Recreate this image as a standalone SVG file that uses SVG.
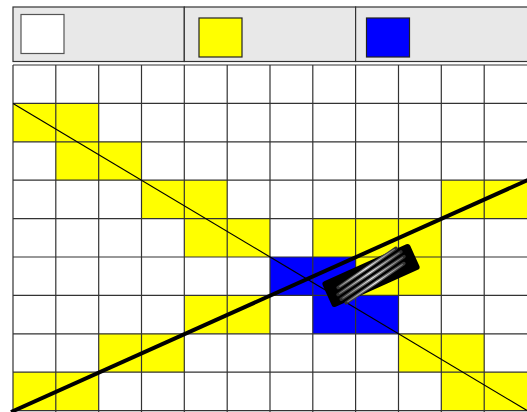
<svg xmlns="http://www.w3.org/2000/svg" width="527" height="412" viewBox="0 0 527 412">
<style>
.leg{fill:#e8e8e8;stroke:#333;stroke-width:1.2}
.sw{stroke:#222;stroke-width:1.2}
.y{fill:#ffff00}
.b{fill:#0000ff}
.gl{stroke:#333;stroke-width:1.2;fill:none}
.st1{stroke:url(#sg1);stroke-width:3.4;stroke-linecap:round}
.st2{stroke:url(#sg2);stroke-width:1.1;stroke-linecap:round}
</style>
<defs>
<linearGradient id="sg1" gradientUnits="userSpaceOnUse" x1="-45" y1="0" x2="45" y2="0">
<stop offset="0" stop-color="#222"/>
<stop offset="0.5" stop-color="#777"/>
<stop offset="1" stop-color="#222"/>
</linearGradient>
<linearGradient id="sg2" gradientUnits="userSpaceOnUse" x1="-45" y1="0" x2="45" y2="0">
<stop offset="0" stop-color="#555"/>
<stop offset="0.5" stop-color="#f4f4f4"/>
<stop offset="1" stop-color="#555"/>
</linearGradient>
</defs>
<rect width="527" height="412" fill="#ffffff"/>
<g id="legend">
<rect class="leg" x="13" y="7" width="171.3" height="54.5"/>
<rect class="leg" x="184.3" y="7" width="171.3" height="54.5"/>
<rect class="leg" x="355.6" y="7" width="180" height="54.5"/>
<rect x="21" y="14.5" width="43" height="39" fill="#ffffff" stroke="#555" stroke-width="1.2"/>
<rect class="y sw" x="199" y="18" width="43" height="39"/>
<rect class="b sw" x="366.5" y="18" width="43" height="39"/>
</g>
<g id="grid">
<rect x="13" y="65" width="520" height="346" fill="#ffffff"/>
<g id="yellow-cells" class="y">
<rect x="13" y="103.4" width="85.7" height="38.4"/>
<rect x="55.8" y="141.8" width="85.7" height="38.4"/>
<rect x="141.5" y="180.2" width="85.7" height="38.4"/>
<rect x="441.3" y="180.2" width="90" height="38.4"/>
<rect x="184.3" y="218.6" width="85.7" height="38.4"/>
<rect x="312.8" y="218.6" width="128.5" height="38.4"/>
<rect x="355.6" y="257" width="85.7" height="38.4"/>
<rect x="184.3" y="295.4" width="85.7" height="38.4"/>
<rect x="98.7" y="333.8" width="85.7" height="38.4"/>
<rect x="398.5" y="333.8" width="85.7" height="38.4"/>
<rect x="13" y="372.2" width="85.7" height="38.8"/>
<rect x="441.3" y="372.2" width="90" height="38.8"/>
</g>
<g id="blue-cells" class="b">
<rect x="270" y="257" width="85.7" height="38.4"/>
<rect x="312.8" y="295.4" width="85.7" height="38.4"/>
</g>
<path class="gl" d="M13 65H540M13 103.4H540M13 141.8H540M13 180.2H540M13 218.6H540M13 257H540M13 295.4H540M13 333.8H540M13 372.2H540M13 410.6H540M13 65V412M55.8 65V412M98.7 65V412M141.5 65V412M184.3 65V412M227.2 65V412M270 65V412M312.8 65V412M355.6 65V412M398.5 65V412M441.3 65V412M484.2 65V412"/>
</g>
<g id="connectors">
<line x1="13" y1="103.4" x2="527" y2="410.5" stroke="#000" stroke-width="1.2"/>
<line x1="11" y1="412" x2="530" y2="179" stroke="#000" stroke-width="4"/>
</g>
<g id="hatched-bar" transform="translate(371 275.5) rotate(-24.2)">
<rect x="-48" y="-14" width="96" height="28" rx="3" fill="#000"/>
<g transform="rotate(-10)">
<line class="st1" x1="-34" y1="-8.5" x2="36" y2="-8.5"/>
<line class="st1" x1="-38" y1="-2.8" x2="38" y2="-2.8"/>
<line class="st1" x1="-38" y1="2.9" x2="38" y2="2.9"/>
<line class="st1" x1="-36" y1="8.6" x2="34" y2="8.6"/>
<line class="st2" x1="-32" y1="-8.5" x2="34" y2="-8.5"/>
<line class="st2" x1="-36" y1="-2.8" x2="36" y2="-2.8"/>
<line class="st2" x1="-36" y1="2.9" x2="36" y2="2.9"/>
<line class="st2" x1="-34" y1="8.6" x2="32" y2="8.6"/>
</g>
</g>
</svg>
